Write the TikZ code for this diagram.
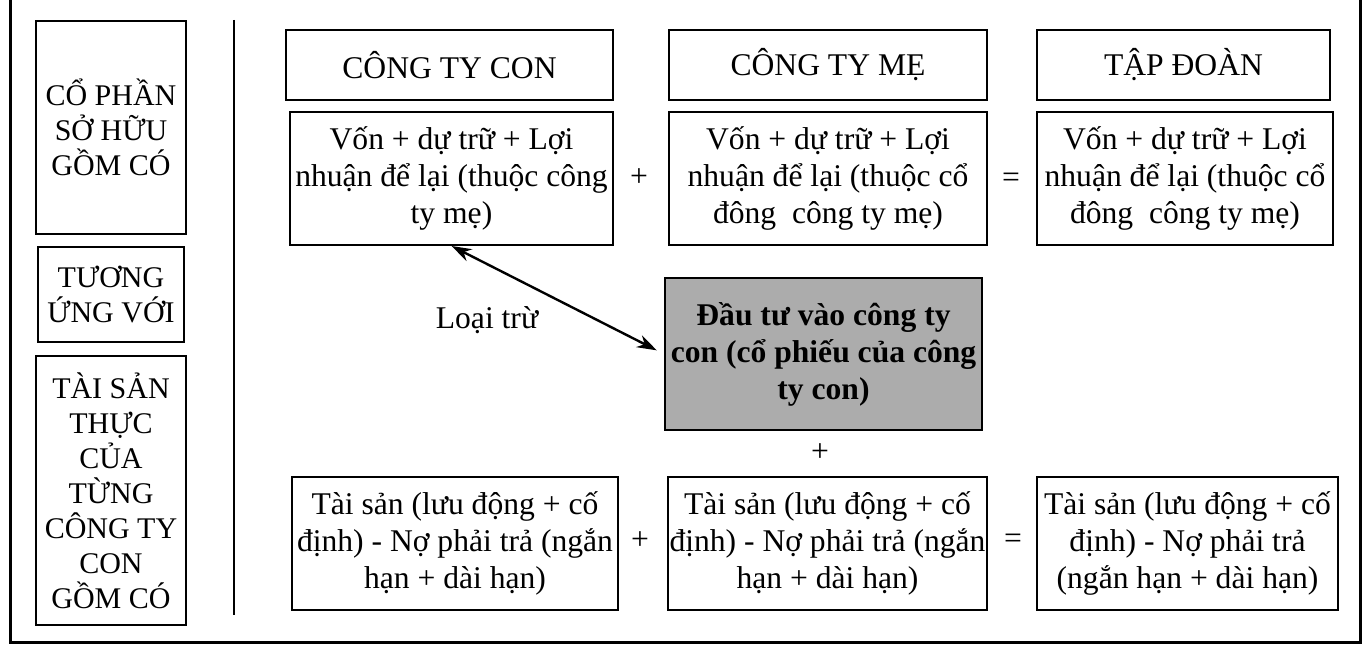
\documentclass[tikz,border=0pt]{standalone}
\usepackage{fontspec}
\setmainfont{Liberation Serif}
\usetikzlibrary{arrows.meta}
\definecolor{shade}{RGB}{172,172,172}
\tikzset{
  box/.style={draw, line width=1pt, inner sep=0pt, align=center, font=\fontsize{15.8}{18.5}\selectfont},
  lbox/.style={draw, line width=1pt, inner sep=0pt, align=center, font=\fontsize{15}{17.5}\selectfont},
  sym/.style={inner sep=0pt, font=\fontsize{15.8}{18.5}\selectfont},
  frame/.style={line width=1.5pt},
  sep/.style={line width=1pt},
  excl/.style={{Stealth[length=10pt,width=6.5pt]}-{Stealth[length=10pt,width=6.5pt]}, line width=1.2pt, shorten >=4pt},
}
\begin{document}
\begin{tikzpicture}[x=0.5pt,y=-0.5pt]
\useasboundingbox (0,0) rectangle (1367,646);
% outer frame (top edge cut off)
\draw[frame] (10,-10) -- (10,643) -- (1360,643) -- (1360,-10);
% separator
\coordinate (s1) at (234,20);
\coordinate (s2) at (234,615);
\draw[sep] (s1) -- (s2);
% left column
\node[lbox, minimum width=75pt, minimum height=106.5pt] (L1) at (111,127.5) {CỔ PHẦN\\SỞ HỮU\\GỒM CÓ};
\node[lbox, minimum width=73pt, minimum height=47.5pt] (L2) at (111,294.5) {TƯƠNG\\ỨNG VỚI};
\node[lbox, minimum width=75pt, minimum height=134.5pt] (L3) at (111,490.5) {TÀI SẢN\\THỰC\\CỦA\\TỪNG\\CÔNG TY\\CON\\GỒM CÓ};
% headers
\node[box, minimum width=163.5pt, minimum height=35pt] (H1) at (449.5,65) {CÔNG TY CON};
\node[box, minimum width=159pt, minimum height=35pt] (H2) at (828,65) {CÔNG TY MẸ};
\node[box, minimum width=146.5pt, minimum height=35pt] (H3) at (1183.5,65) {TẬP ĐOÀN};
% equity row
\node[box, minimum width=161.5pt, minimum height=66.5pt] (C1) at (451.5,178.5) {Vốn + dự trữ + Lợi\\nhuận để lại (thuộc công\\ty mẹ)};
\node[box, minimum width=159pt, minimum height=66.5pt] (C2) at (828,178.5) {Vốn + dự trữ + Lợi\\nhuận để lại (thuộc cổ\\đông\ \ công ty mẹ)};
\node[box, minimum width=148pt, minimum height=66.5pt] (C3) at (1185,178.5) {Vốn + dự trữ + Lợi\\nhuận để lại (thuộc cổ\\đông\ \ công ty mẹ)};
\node[sym] (p1) at (639,178) {+};
\node[sym] (e1) at (1011,180) {=};
% investment
\node[box, fill=shade, font=\fontsize{15.8}{18.5}\selectfont\bfseries, minimum width=158.5pt, minimum height=76pt] (S) at (823.5,354) {Đầu tư vào công ty\\con (cổ phiếu của công\\ty con)};
\node[sym] (p2) at (820,453) {+};
\node[sym] (lt) at (487,320) {Loại trừ};
\draw[excl] (C1.south) -- (S.west);
% asset row
\node[box, minimum width=163pt, minimum height=66.5pt] (B1) at (455,543.5) {Tài sản (lưu động + cố\\định) - Nợ phải trả (ngắn\\hạn + dài hạn)};
\node[box, minimum width=159.5pt, minimum height=66.5pt] (B2) at (827.5,543.5) {Tài sản (lưu động + cố\\định) - Nợ phải trả (ngắn\\hạn + dài hạn)};
\node[box, minimum width=150.5pt, minimum height=66.5pt] (B3) at (1187.5,543.5) {Tài sản (lưu động + cố\\định) - Nợ phải trả\\(ngắn hạn + dài hạn)};
\node[sym] (p3) at (640,541) {+};
\node[sym] (e2) at (1013,541) {=};
\end{tikzpicture}
\end{document}
